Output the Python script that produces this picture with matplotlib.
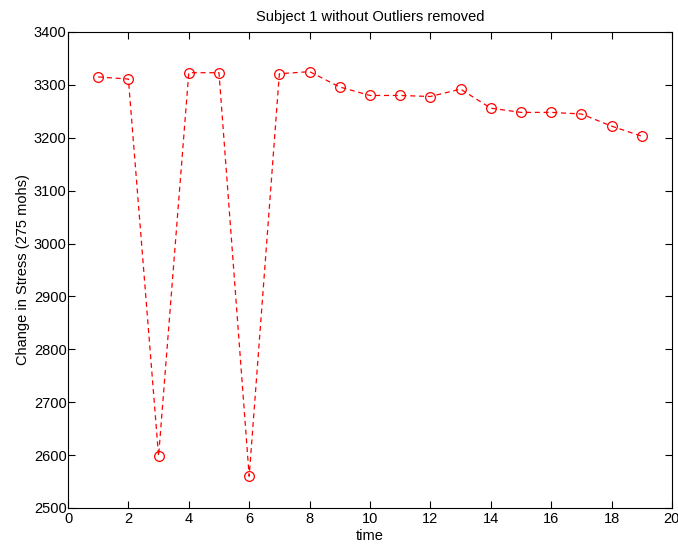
import matplotlib
matplotlib.use("Agg")
import matplotlib.pyplot as plt

# Data
time = list(range(1, 20))
stress = [3315, 3311, 2598, 3323, 3323, 2560, 3321, 3325, 3296, 3280,
          3280, 3278, 3292, 3256, 3248, 3248, 3245, 3222, 3203]

plt.rcParams['font.family'] = ['Liberation Sans', 'DejaVu Sans']
plt.rcParams['font.size'] = 10.5

fig = plt.figure(figsize=(6.78, 5.44), dpi=100)
ax = fig.add_axes([0.1003, 0.0662, 0.8907, 0.875])

ax.plot(time, stress, color='red', linestyle='--', linewidth=0.9,
        dashes=(4, 3), marker='o', markersize=7, markerfacecolor='none',
        markeredgecolor='red', markeredgewidth=0.9)

ax.set_xlim(0, 20)
ax.set_ylim(2500, 3400)
ax.set_xticks(range(0, 21, 2))
ax.set_yticks(range(2500, 3401, 100))
ax.tick_params(direction='in', top=True, right=True, length=5, width=0.8)
ax.tick_params(axis='y', pad=1)
ax.tick_params(axis='x', pad=3)
for s in ax.spines.values():
    s.set_linewidth(0.8)

ax.set_title("Subject 1 without Outliers removed", fontsize=10.5, pad=8)
ax.set_xlabel("time", labelpad=2)
ax.set_ylabel("Change in Stress (275 mohs)", labelpad=3)

fig.savefig("out.png", dpi=100)
